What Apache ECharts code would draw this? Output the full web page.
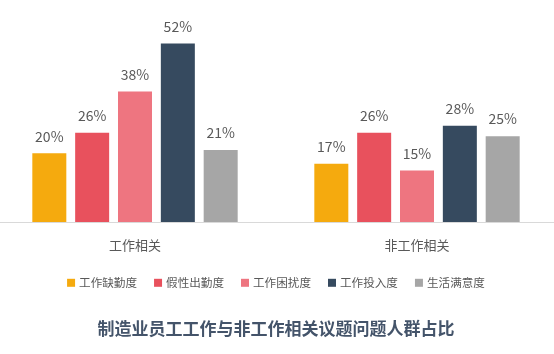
<!DOCTYPE html>
<html>
<head>
<meta charset="utf-8">
<script src="https://cdn.jsdelivr.net/npm/echarts@6/dist/echarts.min.js"></script>
<style>
html, body { margin: 0; padding: 0; background: #fff; overflow: hidden; }
#main { width: 564px; height: 354px; margin-left: -6px; }
</style>
</head>
<body>
<div id="main"></div>
<script>
var categories = ['工作相关', '非工作相关'];
var seriesNames = ['工作缺勤度', '假性出勤度', '工作困扰度', '工作投入度', '生活满意度'];
var seriesValues = [
    [20, 17],
    [26, 26],
    [38, 15],
    [52, 28],
    [21, 25]
];
var colors = ['#F5AA0E', '#E8515D', '#EE7580', '#364A5F', '#A6A6A6'];

var font = '"Noto Sans CJK SC", "Noto Sans", sans-serif';
var chart = echarts.init(document.getElementById('main'));

var series = [];
for (var i = 0; i < seriesNames.length; i++) {
    series.push({
        name: seriesNames[i],
        type: 'bar',
        data: seriesValues[i],
        barWidth: 34,
        barGap: '26%',
        itemStyle: { color: colors[i] },
        label: {
            show: true,
            position: 'top',
            distance: 10,
            formatter: '{c}%',
            color: '#595959',
            fontSize: 14,
            fontFamily: font
        }
    });
}

var option = {
    animation: false,
    color: colors,
    title: {
        text: '制造业员工工作与非工作相关议题问题人群占比',
        left: 'center',
        top: 315,
        textStyle: { color: '#44546A', fontSize: 17, fontWeight: 'bold', fontFamily: font }
    },
    legend: {
        data: seriesNames,
        top: 272,
        left: 'center',
        icon: 'rect',
        itemWidth: 8,
        itemHeight: 8,
        itemGap: 17,
        textStyle: { color: '#595959', fontSize: 11.6, fontFamily: font, padding: [0, 0, 0, -1] }
    },
    grid: { left: 0, right: 0, top: 16, bottom: 132 },
    xAxis: {
        type: 'category',
        data: categories,
        axisLine: { lineStyle: { color: '#D9D9D9' } },
        axisTick: { show: false },
        axisLabel: { color: '#595959', fontSize: 13, margin: 17, fontFamily: font }
    },
    yAxis: {
        type: 'value',
        min: 0,
        max: 60,
        show: false
    },
    series: series
};
chart.setOption(option);
</script>
</body>
</html>
